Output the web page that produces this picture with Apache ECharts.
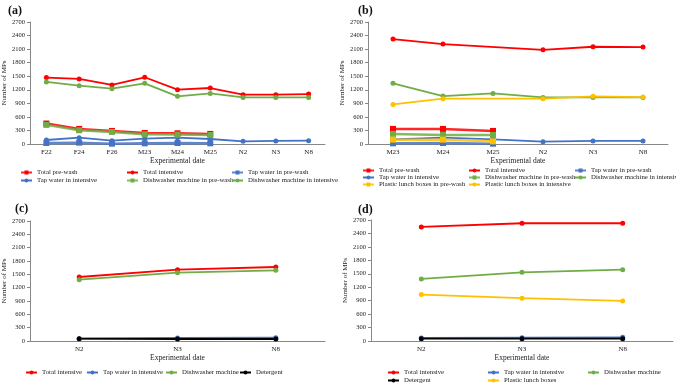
<!DOCTYPE html>
<html>
<head>
<meta charset="utf-8">
<style>
  html, body { margin: 0; padding: 0; background: #fff; }
  #main { width: 676px; height: 384px; }
</style>
</head>
<body>
<div id="main"></div>
<script src="https://cdn.jsdelivr.net/npm/echarts@6/dist/echarts.min.js"></script>
<script>
// categories
var datesA = ['F22', 'F24', 'F26', 'M23', 'M24', 'M25', 'N2', 'N3', 'N8'];
var datesB = ['M23', 'M24', 'M25', 'N2', 'N3', 'N8'];
var datesN = ['N2', 'N3', 'N8'];

// (a)
var aTotalPre = [453, 334, 289, 245, 237, 223];
var aTotalInt = [1469, 1440, 1306, 1477, 1202, 1239, 1091, 1091, 1106];
var aTapPre = [22, 30, 7, 15, 22, 15];
var aTapInt = [89, 141, 74, 119, 141, 111, 59, 67, 74];
var aDishPre = [423, 304, 267, 215, 208, 200];
var aDishInt = [1373, 1291, 1224, 1343, 1054, 1120, 1031, 1031, 1031];

// (b)
var bTotalPre = [334, 334, 289];
var bTotalInt = [2322, 2211, null, 2085, 2152, 2144];
var bTapPre = [15, 22, 7];
var bTapInt = [104, 141, 104, 52, 67, 67];
var bDishPre = [223, 200, 200];
var bDishInt = [1343, 1061, 1120, 1031, 1031, 1031];
var bPlasticPre = [96, 96, 59];
var bPlasticInt = [875, 1002, null, 1002, 1054, 1039];

// (c)
var cTotalInt = [1440, 1605, 1665];
var cTapInt = [52, 67, 75];
var cDish = [1380, 1538, 1590];
var cDetergent = [52, 45, 45];

// (d)
var dTotalInt = [2545, 2627, 2627];
var dTapInt = [67, 74, 81];
var dDish = [1384, 1532, 1591];
var dDetergent = [52, 52, 52];
var dPlastic = [1036, 955, 895];

var yMax = 2700, yStep = 300;

var RED = '#ff0000', BLUE = '#4472c4', GREEN = '#70ad47', YEL = '#ffc000', BLK = '#000000';
var FONT = '"Liberation Serif", "Times New Roman", serif';

var grids = [
  { left: 30, right: 351, top: 22, bottom: 240 },
  { left: 368, right: 8, top: 22, bottom: 240 },
  { left: 30, right: 351, top: 221, bottom: 43 },
  { left: 371, right: 3, top: 220, bottom: 43 }
];
var cats = [datesA, datesB, datesN, datesN];

function xAx(i) {
  return {
    type: 'category', gridIndex: i, data: cats[i], boundaryGap: true,
    name: 'Experimental date', nameLocation: 'middle', nameGap: 13,
    nameTextStyle: { fontFamily: FONT, fontSize: 7.5, color: '#222' },
    axisLine: { lineStyle: { color: '#888' } },
    axisTick: { length: 3, lineStyle: { color: '#888' } },
    axisLabel: { fontFamily: FONT, fontSize: 7, color: '#222', margin: 5 },
    splitLine: { show: false }
  };
}
function yAx(i) {
  return {
    type: 'value', gridIndex: i, min: 0, max: yMax, interval: yStep,
    name: 'Number of MPs', nameLocation: 'middle', nameGap: 21,
    nameTextStyle: { fontFamily: FONT, fontSize: 7, color: '#222' },
    axisLine: { show: true, lineStyle: { color: '#888' } },
    axisTick: { show: true, length: 3, lineStyle: { color: '#888' } },
    axisLabel: { fontFamily: FONT, fontSize: 6.5, color: '#222', margin: 5,
      formatter: function (v) { return String(v); } },
    splitLine: { show: false }
  };
}
function ser(i, name, color, data, pre) {
  return {
    type: 'line', name: name, xAxisIndex: i, yAxisIndex: i, data: data,
    connectNulls: true, symbol: pre ? 'rect' : 'circle', symbolSize: pre ? 6 : 5,
    itemStyle: { color: color },
    lineStyle: { color: color, width: pre ? 2.5 : 1.8, opacity: pre ? 0.85 : 1 },
    z: pre ? 3 : 2
  };
}
function leg(name, x, y) {
  return {
    data: [name], left: x, top: y, itemWidth: 11, itemHeight: 5, itemGap: 0, padding: 0,
    textStyle: { fontFamily: FONT, fontSize: 6.8, color: '#222' }
  };
}

var series = [
  ser(0, 'Total pre-wash', RED, aTotalPre, true),
  ser(0, 'Total intensive', RED, aTotalInt, false),
  ser(0, 'Tap water in pre-wash', BLUE, aTapPre, true),
  ser(0, 'Tap water in intensive', BLUE, aTapInt, false),
  ser(0, 'Dishwasher machine in pre-wash', GREEN, aDishPre, true),
  ser(0, 'Dishwasher machine in intensive', GREEN, aDishInt, false),

  ser(1, 'Total pre-wash', RED, bTotalPre, true),
  ser(1, 'Total intensive', RED, bTotalInt, false),
  ser(1, 'Tap water in pre-wash', BLUE, bTapPre, true),
  ser(1, 'Tap water in intensive', BLUE, bTapInt, false),
  ser(1, 'Dishwasher machine in pre-wash', GREEN, bDishPre, true),
  ser(1, 'Dishwasher machine in intensive', GREEN, bDishInt, false),
  ser(1, 'Plastic lunch boxes in pre-wash', YEL, bPlasticPre, true),
  ser(1, 'Plastic lunch boxes in intensive', YEL, bPlasticInt, false),

  ser(2, 'Total intensive', RED, cTotalInt, false),
  ser(2, 'Tap water in intensive', BLUE, cTapInt, false),
  ser(2, 'Dishwasher machine', GREEN, cDish, false),
  ser(2, 'Detergent', BLK, cDetergent, false),

  ser(3, 'Total intensive', RED, dTotalInt, false),
  ser(3, 'Tap water in intensive', BLUE, dTapInt, false),
  ser(3, 'Dishwasher machine', GREEN, dDish, false),
  ser(3, 'Detergent', BLK, dDetergent, false),
  ser(3, 'Plastic lunch boxes', YEL, dPlastic, false)
];

var legends = [
  leg('Total pre-wash', 20, 169), leg('Total intensive', 126, 169), leg('Tap water in pre-wash', 231, 169),
  leg('Tap water in intensive', 20, 177), leg('Dishwasher machine in pre-wash', 126, 177), leg('Dishwasher machine in intensive', 231, 177),

  leg('Total pre-wash', 362, 167), leg('Total intensive', 468, 167), leg('Tap water in pre-wash', 574, 167),
  leg('Tap water in intensive', 362, 174), leg('Dishwasher machine in pre-wash', 468, 174), leg('Dishwasher machine in intensive', 574, 174),
  leg('Plastic lunch boxes in pre-wash', 362, 181), leg('Plastic lunch boxes in intensive', 468, 181),

  leg('Total intensive', 25, 369), leg('Tap water in intensive', 86, 369), leg('Dishwasher machine', 165, 369), leg('Detergent', 239, 369),

  leg('Total intensive', 387, 369), leg('Tap water in intensive', 487, 369), leg('Dishwasher machine', 587, 369),
  leg('Detergent', 387, 377), leg('Plastic lunch boxes', 487, 377)
];

var titles = [
  { text: '(a)', left: 3, top: 0 },
  { text: '(b)', left: 353, top: 0 },
  { text: '(c)', left: 10, top: 198 },
  { text: '(d)', left: 353, top: 199 }
].map(function (t) {
  t.textStyle = { fontFamily: FONT, fontSize: 12, fontWeight: 'bold', color: '#111' };
  return t;
});

var chart = echarts.init(document.getElementById('main'), null, { renderer: 'canvas' });
chart.setOption({
  backgroundColor: '#fff',
  animation: false,
  title: titles,
  grid: grids,
  xAxis: [0, 1, 2, 3].map(xAx),
  yAxis: [0, 1, 2, 3].map(yAx),
  legend: legends,
  series: series
});
</script>
</body>
</html>
